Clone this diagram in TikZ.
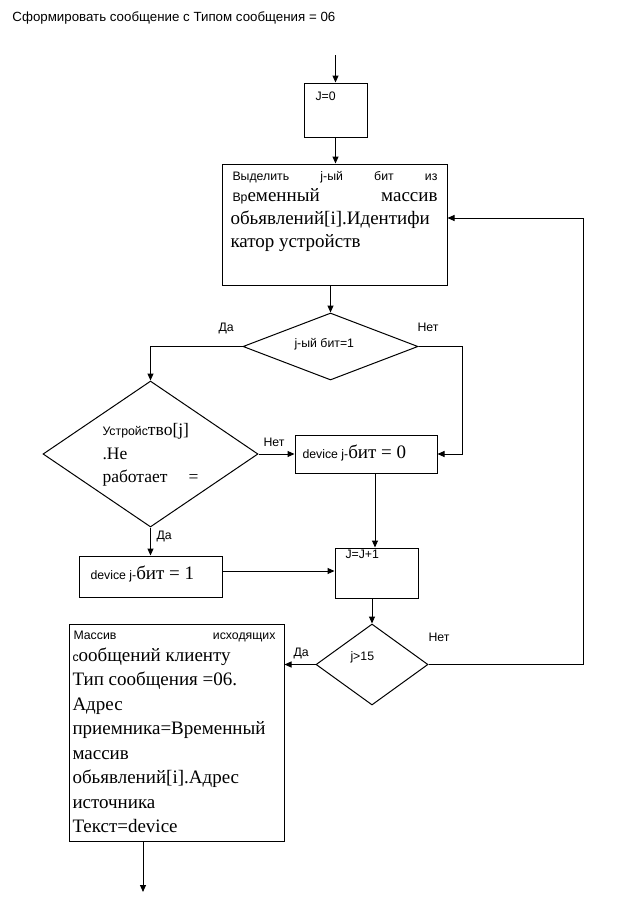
\documentclass[tikz,border=0pt]{standalone}
\usepackage{fontspec}
\setmainfont{Liberation Serif}
\newfontfamily\sa{Liberation Sans}
\usetikzlibrary{arrows.meta,shapes.geometric}
\newcommand\smf{\sa\fontsize{12.3}{14}\selectfont}
\newcommand\bgf{\rmfamily\fontsize{19}{22}\selectfont}
\newcommand\mdf{\rmfamily\fontsize{17.5}{20}\selectfont}
\begin{document}
\begin{tikzpicture}[x=1pt,y=-1pt,line width=1pt]
\tikzset{
 blk/.style={draw, rectangle, inner sep=0pt, line width=1pt},
 dia/.style={draw, diamond, inner sep=0pt, line width=1pt},
 txt/.style={anchor=base west, inner sep=0pt},
 lbl/.style={anchor=base west, inner sep=0pt, font=\smf},
 arr/.style={-{Triangle[length=7pt,width=6pt]}, line width=1pt}
}
\useasboundingbox (0,0) rectangle (618,897);
\fill[white] (0,0) rectangle (618,897);

\node[txt, font=\sa\fontsize{13.3}{15}\selectfont] (title) at (12,21) {Сформировать сообщение с Типом сообщения = 06};

% shapes
\node[blk, minimum width=63pt, minimum height=54pt] (J0) at (335.5,110) {};
\node[blk, minimum width=225pt, minimum height=121pt] (B2) at (334.5,224.5) {};
\node[dia, minimum width=175pt, minimum height=67pt] (D1) at (330.5,346.5) {};
\node[dia, minimum width=215pt, minimum height=146pt] (D2) at (150.5,454) {};
\node[blk, minimum width=142pt, minimum height=38pt] (B0) at (366,454) {};
\node[blk, minimum width=143pt, minimum height=41pt] (B1) at (150.5,576.5) {};
\node[blk, minimum width=83pt, minimum height=50pt] (JJ) at (376.5,573) {};
\node[dia, minimum width=112pt, minimum height=81pt] (D3) at (372,664.5) {};
\node[blk, minimum width=215pt, minimum height=217pt] (BB) at (176.5,732.5) {};

% texts
\node[txt, font=\smf] (tJ0) at (315,100) {J=0};
\node[txt] (t21) at (232,180) {\makebox[205pt][s]{\smf Выделить\hfill j-ый\hfill бит\hfill из}};
\node[txt] (t22) at (232,201) {\makebox[205pt][s]{{\smf Вр}{\bgf еменный}\hfill{\bgf массив}}};
\node[txt, font=\bgf] (t23) at (230,224.5) {обьявлений[i].Идентифи};
\node[txt, font=\bgf] (t24) at (230,247.5) {катор устройств};

\node[txt, font=\smf] (tD1) at (294,347) {j-ый бит=1};
\node[lbl] (lD1a) at (218,331) {Да};
\node[lbl] (lD1n) at (417,331) {Нет};

\node[txt] (tD21) at (102,435) {{\smf Устройс}{\mdf тво[j]}};
\node[txt, font=\mdf] (tD22) at (102,459) {.Не};
\node[txt] (tD23) at (102,482) {\makebox[96pt][s]{\mdf работает\hfill =}};
\node[lbl] (lD2n) at (263,446) {Нет};
\node[lbl] (lD2a) at (156,539) {Да};

\node[txt] (tB0) at (302,458) {{\smf device j-}{\bgf бит = 0}};
\node[txt] (tB1) at (90,579) {{\smf device j-}{\bgf бит = 1}};
\node[txt, font=\smf] (tJJ) at (345,558) {J=J+1};

\node[txt, font=\smf] (tD3) at (350,660) {j>15};
\node[lbl] (lD3a) at (293,656) {Да};
\node[lbl] (lD3n) at (428,641) {Нет};

\node[txt] (tb1) at (73,639) {\makebox[202pt][s]{\smf Массив\hfill исходящих}};
\node[txt] (tb2) at (72,661) {{\smf с}{\bgf ообщений клиенту}};
\node[txt, font=\bgf] (tb3) at (72,685.5) {Тип сообщения =06.};
\node[txt, font=\bgf] (tb4) at (72,710) {Адрес};
\node[txt, font=\bgf] (tb5) at (72,734.5) {приемника=Временный};
\node[txt, font=\bgf] (tb6) at (72,759) {массив};
\node[txt, font=\bgf] (tb7) at (72,783.5) {обьявлений[i].Адрес};
\node[txt, font=\bgf] (tb8) at (72,808) {источника};
\node[txt, font=\bgf] (tb9) at (72,832) {Текст=device};

% connectors
\coordinate (s0) at (335.5,55);
\coordinate (e0) at (143,892);
\draw[arr] (s0) -- (J0.north);
\draw[arr] (J0.south) -- (J0.south |- B2.north);
\draw[arr] (B2.south -| D1.north) -- (D1.north);
\draw[arr] (D1.west) -| (D2.north);
\draw[arr] (D1.east) -- ++(44,0) |- (B0.east);
\draw[arr] (D2.east) -- (B0.west);
\draw[arr] (D2.south) -- (D2.south |- B1.north);
\draw[arr] ([yshift=5.5pt]B1.east) -- ([yshift=5.5pt]B1.east -| JJ.west);
\draw[arr] ([xshift=9pt]B0.south) -- ([xshift=9pt]B0.south |- JJ.north);
\draw[arr] (D3.north |- JJ.south) -- (D3.north);
\draw[arr] (D3.west) -- (D3.west -| BB.east);
\draw[arr] (D3.east) -- ++(155,0) |- ([yshift=6.5pt]B2.east);
\draw[arr] ([xshift=-33.5pt]BB.south) -- (e0);
\end{tikzpicture}
\end{document}
